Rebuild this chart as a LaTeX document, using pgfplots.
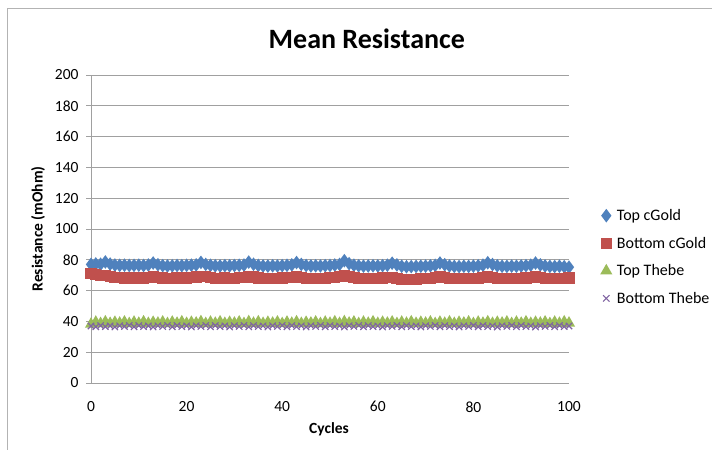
\documentclass[border=0pt]{standalone}
\usepackage{pgfplots}
\pgfplotsset{compat=1.18}
\usepackage{pgfplotstable}
\usepackage{fontspec}
\setmainfont{Carlito}

\definecolor{xlblue}{HTML}{4F81BD}
\definecolor{xlred}{HTML}{C0504D}
\definecolor{xlgreen}{HTML}{9BBB59}
\definecolor{xlpurple}{HTML}{8064A2}
\definecolor{xlgrid}{RGB}{160,160,160}

% x = cycle, tc = Top cGold, bc = Bottom cGold, tt = Top Thebe, bt = Bottom Thebe
\pgfplotstableread{
x tc bc tt bt
0 77.0 71.0 38.2 37.0
1 77.3 70.3 39.5 36.5
2 77.1 69.8 38.6 37.3
3 78.6 69.9 39.7 36.6
4 77.2 69.2 38.7 37.1
5 76.6 68.7 39.4 36.4
6 76.4 68.3 38.9 37.2
7 76.5 68.1 39.6 36.7
8 76.3 68.4 38.6 37.4
9 76.4 68.2 39.5 36.5
10 76.5 68.3 38.8 37.3
11 76.3 68.0 39.7 36.6
12 76.6 68.4 38.7 37.1
13 77.9 69.1 39.4 36.4
14 76.8 68.6 38.9 37.2
15 76.2 68.2 39.6 36.7
16 76.0 67.9 38.6 37.4
17 76.1 68.0 39.5 36.5
18 76.3 68.3 38.8 37.3
19 76.2 68.1 39.7 36.6
20 76.4 68.2 38.7 37.1
21 76.5 68.5 39.4 36.4
22 76.7 68.8 38.9 37.2
23 78.3 69.4 39.8 36.7
24 77.0 68.9 38.6 37.4
25 76.4 68.3 39.5 36.5
26 76.1 68.0 38.8 37.3
27 76.0 67.9 39.7 36.6
28 76.2 68.2 38.7 37.1
29 76.1 68.0 39.4 36.4
30 76.3 68.1 38.9 37.2
31 76.4 68.3 39.6 36.7
32 76.6 68.6 38.6 37.4
33 78.5 69.3 39.8 36.5
34 77.1 68.8 38.8 37.3
35 76.3 68.2 39.7 36.6
36 76.0 67.8 38.7 37.1
37 75.9 67.9 39.4 36.4
38 76.1 68.1 38.9 37.2
39 76.0 68.0 39.6 36.7
40 76.2 68.2 38.6 37.4
41 76.4 68.4 39.5 36.5
42 76.7 68.7 38.8 37.3
43 78.2 69.2 39.7 36.6
44 77.0 68.7 38.7 37.1
45 76.3 68.1 39.4 36.4
46 76.0 67.9 38.9 37.2
47 76.1 67.8 39.6 36.7
48 76.0 68.0 38.6 37.4
49 76.2 68.1 39.5 36.5
50 76.3 68.3 38.8 37.3
51 76.6 68.6 39.7 36.6
52 77.0 69.0 38.7 37.1
53 79.4 69.6 39.8 36.4
54 77.5 69.0 38.9 37.2
55 76.5 68.4 39.6 36.7
56 76.1 68.0 38.6 37.4
57 75.9 67.7 39.5 36.5
58 76.0 67.8 38.8 37.3
59 76.1 67.9 39.7 36.6
60 76.0 68.0 38.7 37.1
61 76.2 68.2 39.4 36.4
62 76.5 68.4 38.9 37.2
63 77.8 68.6 39.6 36.7
64 76.7 67.9 38.6 37.4
65 75.8 67.3 39.5 36.5
66 75.5 67.1 38.8 37.3
67 75.6 67.2 39.7 36.6
68 75.7 67.4 38.7 37.1
69 75.8 67.6 39.4 36.4
70 75.9 67.8 38.9 37.2
71 76.1 68.0 39.6 36.7
72 76.4 68.3 38.6 37.4
73 77.9 68.9 39.5 36.5
74 76.8 68.4 38.8 37.3
75 76.0 67.9 39.7 36.6
76 75.7 67.6 38.7 37.1
77 75.6 67.7 39.4 36.4
78 75.8 67.9 38.9 37.2
79 75.7 67.8 39.6 36.7
80 75.9 67.9 38.6 37.4
81 76.1 68.1 39.5 36.5
82 76.5 68.4 38.8 37.3
83 78.1 69.0 39.7 36.6
84 76.9 68.5 38.7 37.1
85 76.1 68.0 39.4 36.4
86 75.8 67.7 38.9 37.2
87 75.7 67.8 39.6 36.7
88 75.9 68.0 38.6 37.4
89 75.8 67.9 39.5 36.5
90 76.0 68.0 38.8 37.3
91 76.2 68.2 39.7 36.6
92 76.5 68.5 38.7 37.1
93 77.9 69.1 39.4 36.4
94 76.7 68.6 38.9 37.2
95 76.0 68.1 39.6 36.7
96 75.7 67.8 38.6 37.4
97 75.6 67.9 39.5 36.5
98 75.8 68.1 38.8 37.3
99 75.5 68.0 39.7 36.6
100 75.2 68.2 38.9 37.0
}\resdata

\begin{document}
\begin{tikzpicture}
\begin{axis}[
  at={(91bp,67bp)}, anchor=south west,
  scale only axis, width=478bp, height=308bp,
  xmin=0, xmax=100, ymin=0, ymax=200,
  xtick={0,20,...,100}, ytick={0,20,...,200},
  axis x line*=bottom, axis y line*=left,
  axis line style={draw=xlgrid, line width=0.9bp, -},
  ymajorgrids, grid style={draw=xlgrid, line width=0.9bp},
  tick align=outside, major tick length=5bp,
  xtick style={draw=none}, ytick style={draw=xlgrid, line width=0.9bp},
  /pgf/number format/assume math mode=true,
  tick label style={font=\fontsize{15.5bp}{18bp}\selectfont},
  xticklabel style={yshift=-10bp},
  yticklabel style={xshift=-4bp},
  title={\textbf{Mean Resistance}},
  title style={font=\fontsize{28bp}{32bp}\selectfont, at={(axis description cs:0.577,1)}, anchor=base, yshift=21bp},
  xlabel={\textbf{Cycles}},
  xlabel style={font=\fontsize{15.5bp}{18bp}\selectfont, at={(axis description cs:0.498,0)}, anchor=base, yshift=-50bp},
  ylabel={\textbf{Resistance (mOhm)}},
  ylabel style={font=\fontsize{15.5bp}{18bp}\selectfont, at={(axis description cs:-0.111,0.5)}, anchor=center},
  legend cell align=left,
  legend image code/.code={\draw[mark repeat=1, mark phase=1] plot coordinates {(0bp,0bp)};},
  legend style={at={(axis description cs:1.068,0.409)}, anchor=west, draw=none, fill=none,
    inner sep=0pt, font=\fontsize{16bp}{18bp}\selectfont, row sep=11bp,
    /tikz/every odd column/.append style={column sep=4bp}},
]
\addplot[color=xlblue, line width=2bp, mark=diamond*, mark size=5.2bp, mark options={solid, fill=xlblue}] table[x=x, y=tc] {\resdata};
\addlegendentry{Top cGold}
\addplot[color=xlred, line width=2bp, mark=square*, mark size=4.6bp, mark options={solid, fill=xlred}] table[x=x, y=bc] {\resdata};
\addlegendentry{Bottom cGold}
\addplot[color=xlgreen, line width=2bp, mark=triangle*, mark size=5bp, mark options={solid, fill=xlgreen}] table[x=x, y=tt] {\resdata};
\addlegendentry{Top Thebe}
\addplot[color=xlpurple, line width=1.5bp, mark=x, mark size=4.5bp, mark options={solid, line width=1.1bp}] table[x=x, y=bt] {\resdata};
\addlegendentry{Bottom Thebe}
\end{axis}
\draw[draw=xlgrid!80, line width=1bp] (7bp,0bp) -- (7bp,441bp) -- (712bp,441bp);
\pgfresetboundingbox
\path[use as bounding box] (0bp,0bp) rectangle (712bp,450bp);
\end{tikzpicture}
\end{document}
